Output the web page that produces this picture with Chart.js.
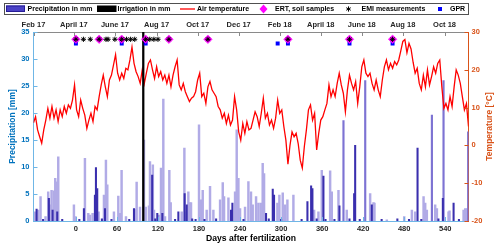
<!DOCTYPE html>
<html>
<head>
<meta charset="utf-8">
<script src="https://cdn.jsdelivr.net/npm/chart.js@4.4.0/dist/chart.umd.min.js"></script>
<style>
  html, body { margin: 0; padding: 0; background: #fff; }
  #wrap { width: 500px; height: 248px; }
</style>
</head>
<body>
<div id="wrap"><canvas id="chart"></canvas></div>
<script>
// Axis range in days after fertilization
const dayMin = -62;
const dayMax = 574;
const dayTicks = [0, 60, 120, 180, 240, 300, 360, 420, 480, 540];

// Top axis: calendar months
const monthDays = [-62, -3, 57, 118, 178, 238, 298, 358, 418, 478, 539];
const monthLabels = ["Feb 17", "April 17", "June 17", "Aug 17", "Oct 17", "Dec 17",
  "Feb 18", "April 18", "June 18", "Aug 18", "Oct 18"];

// Daily air temperature (°C), sampled every 3 days from day -62
const tempStart = -62;
const tempStep = 3;
const tempValues = [
  6.0, 7.6, 4.1, 2.3, 0.6, 4.1, 6.7, 9.8, 7.2, 10.3,
  7.2, 9.4, 6.3, 9.4, 7.6, 10.3, 8.5, 10.7, 9.8, 12.0,
  16.0, 9.4, 7.6, 12.0, 9.8, 8.0, 4.5, 6.7, 8.5, 6.3,
  10.3, 9.4, 12.9, 16.0, 18.6, 15.5, 12.9, 17.3, 18.6, 21.3,
  24.0, 19.1, 17.3, 19.1, 17.7, 20.4, 20.0, 22.6, 26.0, 21.7,
  19.5, 18.2, 16.4, 20.0, 16.4, 19.1, 21.7, 22.6, 20.0, 17.7,
  20.8, 18.2, 19.5, 17.3, 18.6, 16.4, 18.6, 15.5, 18.6, 20.8,
  22.6, 16.0, 14.7, 16.4, 14.2, 12.9, 11.6, 12.5, 12.9, 14.2,
  17.3, 19.1, 12.9, 13.8, 11.1, 15.5, 16.9, 14.7, 13.8, 12.9,
  10.3, 9.4, 7.2, 8.5, 5.8, 8.0, 5.4, 6.7, 12.9, 9.4,
  3.6, 1.4, 5.8, 3.2, 6.3, 4.1, 4.5, 6.7, 8.9, 7.6,
  5.0, 8.5, 12.5, 7.2, 8.5, 5.4, 6.7, 4.5, 7.2, 12.0,
  8.5, 9.4, 5.0, 1.4, -5.0, 0.0, 3.6, 2.3, 3.2, 0.5,
  -3.9, -6.0, -0.3, 4.1, 9.4, 10.7, 6.7, 8.5, -1.2, 3.2,
  6.7, 7.6, 9.4, 11.1, 16.0, 12.9, 14.7, 12.9, 16.4, 19.1,
  16.0, 13.8, 8.9, 14.7, 18.6, 16.4, 14.7, 16.9, 11.1, 15.5,
  20.8, 22.6, 19.1, 18.2, 19.1, 16.4, 14.7, 17.3, 14.7, 12.9,
  17.3, 20.8, 22.6, 20.0, 21.7, 20.4, 22.2, 21.3, 22.6, 25.0,
  27.5, 28.0, 24.5, 27.0, 25.5, 22.0, 19.1, 20.4, 16.4, 14.7,
  18.6, 15.5, 20.0, 16.0, 18.2, 20.8, 19.1, 21.7, 22.6, 15.5,
  9.8, 11.1, 9.4, 12.9, 10.3, 15.5, 20.0, 18.6, 16.4, 12.9,
  9.4, 11.1, 5.0,
];

// Precipitation (mm) as [day, mm]; light, medium and dark bars of the figure
const precipLight = [
  [-60, 1.7], [-55, 2.0], [-51.7, 4.5], [-44.4, 0.8], [-40.5, 5.4], [-38, 3.0],
  [-35.6, 5.7], [-32.2, 5.6], [-30.2, 7.9], [-29, 7.2], [-28, 7.2], [-25.8, 11.9],
  [-2.9, 3.0], [-0.5, 0.8], [13.2, 11.6], [18.1, 1.4], [20.5, 1.1], [24.4, 1.4],
  [33.2, 1.7], [41, 4.8], [43.9, 11.3], [45.9, 6.7], [55.6, 1.7], [62, 4.6],
  [64.4, 1.4], [66.8, 9.4], [73.2, 0.8], [86.4, 2.2], [88.8, 7.2], [93.7, 2.6],
  [99.5, 15.0], [102, 2.6], [106.8, 2.8], [108.3, 11.0], [112.5, 10.4], [114.2, 2.0],
  [121.5, 1.1], [124.4, 9.8], [127.8, 22.6], [130.3, 0.8], [136.6, 9.4], [138.6, 3.4],
  [154.7, 1.7], [158.6, 13.5], [161, 1.7], [164.4, 5.4], [165.9, 3.4], [168.3, 3.4],
  [180, 17.8], [183, 3.9], [185.4, 5.7], [191.2, 2.0], [196.1, 6.4], [201, 2.0],
  [210.8, 3.9], [214.7, 7.1], [216.6, 4.5], [223, 4.3], [232.7, 5.4], [235.1, 16.9],
  [237.6, 7.9], [240, 2.3], [247.3, 2.6], [252.2, 7.3], [256, 5.4], [258.5, 3.0],
  [263.4, 4.5], [266.8, 3.3], [270.2, 3.3], [273.1, 10.7], [275.1, 8.8], [294.6, 3.3],
  [297.5, 4.8], [302.4, 5.2], [305.8, 3.0], [309.2, 3.9], [318, 4.8], [348.3, 2.0],
  [354.6, 1.7], [359.5, 9.4], [371.7, 9.3], [374.1, 5.4], [383.9, 5.7], [396, 2.0],
  [430.2, 5.1], [435.1, 3.4], [436.5, 3.3], [454.6, 0.2], [480, 0.8], [491.2, 2.0],
  [496, 1.7], [508.3, 4.5], [510.7, 3.3], [513.1, 2.0], [525.3, 3.0], [527.8, 2.3],
  [544.8, 1.7], [546.3, 1.9], [566.8, 2.0], [569.2, 2.3], [571.7, 2.3],
];
const precipMid = [
  [391.2, 18.6], [423, 26.0], [520.5, 19.6], [537.5, 26.0], [573.5, 16.5],
];
const precipDark = [
  [-57.5, 2.2], [-48, 0.3], [-39.5, 4.2], [-34.1, 2.0], [-27.3, 1.7], [-20, 0.3],
  [5, 0.3], [11.7, 2.3], [27.8, 4.8], [29.3, 9.9], [31.2, 6.0], [38, 0.4],
  [42.5, 2.3], [52, 0.3], [78, 0.3], [84.9, 2.3], [111.5, 8.5], [116, 0.4],
  [119, 1.4], [126.4, 1.4], [145, 0.3], [149.8, 1.7], [159, 5.1], [162, 3.0],
  [170, 0.4], [175, 0.3], [188, 0.3], [205, 0.4], [226.8, 2.0], [228.8, 3.3],
  [245, 0.3], [278, 1.4], [282, 0.4], [287.8, 5.9], [289.7, 4.8], [300, 0.3],
  [330, 0.3], [338.5, 3.6], [343.9, 6.5], [345.8, 6.0], [352, 0.4], [361.9, 8.3],
  [365, 0.3], [378, 0.3], [385.3, 2.8], [400, 0.4], [406.8, 5.1], [408.3, 14.0],
  [415, 0.3], [432.6, 3.0], [447, 0.3], [470, 0.4], [487, 0.3], [499.5, 13.5],
  [505, 0.3], [530, 0.4], [536.5, 4.2], [552.2, 3.3], [560, 0.3],
];

// Irrigation (mm): one event, it runs past the top of the axis
const irrigation = [[98.5, 40]];

// Field campaigns (days after fertilization)
const ertDays = [0, 34, 67, 102, 136, 193, 310, 400, 463];
const emiDays = [0, 11, 21, 34, 44, 47, 57, 67, 74, 80, 86, 102, 108, 114, 120, 136, 193, 310, 400, 463];
const gprDays = [0, 67, 102, 295, 310, 400, 463];

const BLUE = "#0072BD";
const ORANGE = "#D95319";
const FONT = '"Liberation Sans", Arial, Helvetica, sans-serif';

Chart.defaults.font.family = FONT;
Chart.defaults.font.weight = "bold";
Chart.defaults.font.size = 7.5;

const toXY = (pairs) => pairs.map(([x, y]) => ({ x, y }));
const atLevel = (days, level) => days.map((x) => ({ x, y: level }));

function barSet(label, pairs, color, thickness, order) {
  return {
    type: "bar",
    label,
    data: toXY(pairs),
    backgroundColor: color,
    borderWidth: 0,
    barThickness: thickness,
    grouped: false,
    yAxisID: "y",
    order,
  };
}

function markerSet(label, days, level, style, order) {
  return {
    type: "line",
    label,
    data: atLevel(days, level),
    showLine: false,
    yAxisID: "y",
    order,
    ...style,
  };
}

// Inward tick marks (MATLAB style) and the right-hand axis title
const axisMarks = {
  id: "axisMarks",
  afterDatasetsDraw(chart) {
    const { ctx, chartArea: a, scales } = chart;
    const len = 4;
    ctx.save();
    ctx.lineWidth = 1;
    const mark = (scale, color, draw) => {
      ctx.strokeStyle = color;
      ctx.beginPath();
      scale.ticks.forEach((t) => draw(Math.round(scale.getPixelForValue(t.value)) + 0.5));
      ctx.stroke();
    };
    mark(scales.x, "#6fb6e6", (p) => { ctx.moveTo(p, a.bottom); ctx.lineTo(p, a.bottom - len); });
    mark(scales.x2, "#8a8a8a", (p) => { ctx.moveTo(p, a.top); ctx.lineTo(p, a.top + len); });
    mark(scales.y, "#6fb6e6", (p) => { ctx.moveTo(a.left, p); ctx.lineTo(a.left + len, p); });
    mark(scales.y2, ORANGE, (p) => { ctx.moveTo(a.right, p); ctx.lineTo(a.right - len, p); });

    ctx.translate(490, (a.top + a.bottom) / 2);
    ctx.rotate(-Math.PI / 2);
    ctx.font = "bold 8.5px " + FONT;
    ctx.fillStyle = ORANGE;
    ctx.textAlign = "center";
    ctx.textBaseline = "middle";
    ctx.fillText("Temperature [\u00B0C]", 0, 0);
    ctx.restore();
  },
};

// Boxed one-row legend across the top
const boxLegend = {
  id: "boxLegend",
  afterDraw(chart) {
    const { ctx } = chart;
    const cy = 9;
    ctx.save();
    ctx.fillStyle = "#fff";
    ctx.fillRect(4.5, 3.5, 464, 11);
    ctx.strokeStyle = "#505050";
    ctx.lineWidth = 1;
    ctx.strokeRect(4.5, 3.5, 464, 11);

    ctx.fillStyle = "#4b42c6";
    ctx.fillRect(6, 5.5, 19, 6.5);
    ctx.strokeStyle = "#261c96";
    ctx.strokeRect(6.5, 6, 18, 5.5);

    ctx.fillStyle = "#000";
    ctx.fillRect(97, 5.5, 19.5, 6.5);

    ctx.strokeStyle = "#ff0000";
    ctx.lineWidth = 1.3;
    ctx.beginPath();
    ctx.moveTo(180, cy);
    ctx.lineTo(195, cy);
    ctx.stroke();

    ctx.fillStyle = "#ff00ff";
    ctx.beginPath();
    ctx.moveTo(263.5, cy - 4.5);
    ctx.lineTo(267.5, cy);
    ctx.lineTo(263.5, cy + 4.5);
    ctx.lineTo(259.5, cy);
    ctx.closePath();
    ctx.fill();

    ctx.strokeStyle = "#000";
    ctx.lineWidth = 1;
    ctx.beginPath();
    [0, 60, 120].forEach((deg) => {
      const r = (deg * Math.PI) / 180;
      ctx.moveTo(348.5 - 2.6 * Math.sin(r), cy - 2.6 * Math.cos(r));
      ctx.lineTo(348.5 + 2.6 * Math.sin(r), cy + 2.6 * Math.cos(r));
    });
    ctx.stroke();

    ctx.fillStyle = "#0000ff";
    ctx.fillRect(438, cy - 2, 4, 4);

    ctx.font = "bold 7px " + FONT;
    ctx.fillStyle = "#000";
    ctx.textAlign = "left";
    ctx.textBaseline = "middle";
    ctx.fillText("Precipitation in mm", 27.5, cy);
    ctx.fillText("Irrigation in mm", 117.5, cy);
    ctx.fillText("Air temperature", 197, cy);
    ctx.fillText("ERT, soil samples", 275, cy);
    ctx.fillText("EMI measurements", 361.5, cy);
    ctx.fillText("GPR", 450, cy);
    ctx.restore();
  },
};

const tempPoints = tempValues.map((t, i) => ({ x: tempStart + tempStep * i, y: t }));

new Chart(document.getElementById("chart"), {
  type: "bar",
  data: {
    datasets: [
      barSet("Precipitation in mm", precipLight, "#b1abe6", 1.8, 8),
      barSet("Precipitation in mm (mid)", precipMid, "#7d73d3", 1.5, 7),
      barSet("Precipitation in mm (dark)", precipDark, "#3a2fae", 1.4, 6),
      {
        type: "line",
        label: "Air temperature",
        data: tempPoints,
        yAxisID: "y2",
        borderColor: "#ff0000",
        borderWidth: 1.3,
        pointRadius: 0,
        tension: 0,
        order: 5,
      },
      barSet("Irrigation in mm", irrigation, "#000000", 1.6, 4),
      markerSet("GPR", gprDays, 32.87, {
        pointStyle: "rect", pointRadius: 2.8, backgroundColor: "#0000ff", borderColor: "#0000ff", borderWidth: 0,
      }, 3),
      markerSet("ERT, soil samples", ertDays, 33.65, {
        pointStyle: "rectRot", pointRadius: 4.3, backgroundColor: "#ff00ff", borderColor: "#ff00ff", borderWidth: 0.5,
      }, 2),
      markerSet("EMI measurements", emiDays, 33.65, {
        pointStyle: "star", pointRadius: 2.6, backgroundColor: "#000", borderColor: "#000", borderWidth: 1,
      }, 1),
    ],
  },
  options: {
    responsive: true,
    maintainAspectRatio: false,
    animation: false,
    devicePixelRatio: 1,
    layout: { padding: 0 },
    plugins: {
      legend: { display: false },
      tooltip: { enabled: false },
    },
    scales: {
      x: {
        type: "linear",
        position: "bottom",
        min: dayMin,
        max: dayMax,
        offset: false,
        grid: { display: false, drawTicks: false },
        border: { color: "#6fb6e6", width: 1 },
        afterBuildTicks: (s) => { s.ticks = dayTicks.map((v) => ({ value: v })); },
        ticks: { color: "#262626", padding: 3, autoSkip: false, maxRotation: 0 },
        title: {
          display: true,
          text: "Days after fertilization",
          color: "#000",
          font: { size: 8.6, weight: "bold" },
          padding: { top: 0, bottom: 4.5 },
        },
        afterFit: (s) => { s.height = 27; },
      },
      x2: {
        type: "linear",
        position: "top",
        min: dayMin,
        max: dayMax,
        offset: false,
        grid: { display: false, drawTicks: false },
        border: { color: "#8a8a8a", width: 1 },
        afterBuildTicks: (s) => { s.ticks = monthDays.map((v) => ({ value: v })); },
        ticks: {
          color: "#262626",
          padding: 3,
          autoSkip: false,
          maxRotation: 0,
          callback: (v) => monthLabels[monthDays.indexOf(v)],
        },
        afterFit: (s) => { s.height = 32; },
      },
      y: {
        type: "linear",
        position: "left",
        min: 0,
        max: 35,
        stacked: false,
        grid: { display: false, drawTicks: false },
        border: { color: "#6fb6e6", width: 1 },
        ticks: { stepSize: 5, color: BLUE, padding: 4 },
        title: {
          display: true,
          text: "Precipitation [mm]",
          color: BLUE,
          font: { size: 8.5, weight: "bold" },
          padding: { top: 8, bottom: 0 },
        },
        afterFit: (s) => { s.width = 33.5; },
      },
      y2: {
        type: "linear",
        position: "right",
        min: -20,
        max: 30,
        grid: { display: false, drawTicks: false },
        border: { color: ORANGE, width: 1 },
        ticks: { stepSize: 10, color: ORANGE, padding: 3 },
        afterFit: (s) => { s.width = 31.5; },
      },
    },
  },
  plugins: [axisMarks, boxLegend],
});
</script>
</body>
</html>
